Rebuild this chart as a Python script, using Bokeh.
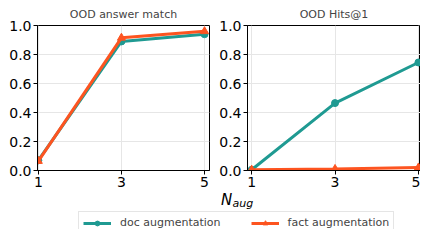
from bokeh.plotting import figure
from bokeh.layouts import column, row
from bokeh.models import FixedTicker, PrintfTickFormatter, Legend, LegendItem, Range1d
from bokeh.core.properties import value
from bokeh.embed import file_html
from bokeh.resources import INLINE

n_aug = [1, 3, 5]
titles = ["OOD answer match", "OOD Hits@1"]
doc_answer = [0.07, 0.89, 0.94]
fact_answer = [0.065, 0.915, 0.96]
doc_hits = [0.005, 0.465, 0.745]
fact_hits = [0.005, 0.01, 0.02]
y_ticks = [0.0, 0.2, 0.4, 0.6, 0.8, 1.0]
series_names = ["doc augmentation", "fact augmentation"]

TEAL = "#1f9a92"
ORANGE = "#fd5420"
FONT = "DejaVu Sans"


def make_panel(title, doc, fact, xr, bl, br, w):
    p = figure(width=w, height=192, output_backend="svg", toolbar_location=None,
               x_range=Range1d(*xr), y_range=Range1d(0, 1.0),
               min_border_left=bl, min_border_right=br, min_border_top=18,
               min_border_bottom=22, title=title)
    p.title.text_font = FONT
    p.title.text_font_size = "11px"
    p.title.text_font_style = "normal"
    p.title.align = "center"
    p.title.offset = 0
    p.outline_line_color = "black"
    p.outline_line_width = 1
    for ax in (p.xaxis, p.yaxis):
        ax.major_label_text_font = FONT
        ax.major_label_text_font_size = "14px"
        ax.major_label_text_color = "black"
        ax.axis_line_color = "black"
        ax.major_tick_line_color = "black"
        ax.major_tick_out = 4
        ax.major_tick_in = 0
        ax.minor_tick_line_color = None
        ax.major_label_standoff = 2
    p.xaxis.ticker = FixedTicker(ticks=n_aug)
    p.yaxis.ticker = FixedTicker(ticks=y_ticks)
    p.yaxis.formatter = PrintfTickFormatter(format="%.1f")
    p.grid.grid_line_color = "#e6e6e6"
    p.grid.grid_line_width = 1
    p.line(n_aug, doc, color=TEAL, line_width=3)
    p.scatter(n_aug, doc, marker="circle", size=7, color=TEAL)
    p.line(n_aug, fact, color=ORANGE, line_width=3)
    p.scatter(n_aug, fact, marker="triangle", size=8, color=ORANGE)
    return p


p1 = make_panel(titles[0], doc_answer, fact_answer, (0.98, 5.12), 37, 3, 212)
p2 = make_panel(titles[1], doc_hits, fact_hits, (0.9, 5.05), 35, 0, 208)

# bottom area: x label and legend
b = figure(width=420, height=37, output_backend="svg", toolbar_location=None,
           x_range=Range1d(0, 420), y_range=Range1d(0, 37),
           min_border=0, outline_line_color=None)
b.axis.visible = False
b.grid.visible = False
b.text(x=[226], y=[30], text=["N"], text_font=value(FONT), text_font_size="15px",
       text_font_style="italic", text_align="center", text_baseline="middle")
b.text(x=[232], y=[26.5], text=["aug"], text_font=value(FONT), text_font_size="11px",
       text_font_style="italic", text_align="left", text_baseline="middle")
nan = float("nan")
l1 = b.line([nan], [nan], color=TEAL, line_width=3)
s1 = b.scatter([nan], [nan], marker="circle", size=7, color=TEAL)
l2 = b.line([nan], [nan], color=ORANGE, line_width=3)
s2 = b.scatter([nan], [nan], marker="triangle", size=8, color=ORANGE)
leg = Legend(items=[LegendItem(label=series_names[0], renderers=[l1, s1]),
                    LegendItem(label=series_names[1], renderers=[l2, s2])],
             orientation="horizontal", location=(78, -5),
             label_text_font=FONT, label_text_font_size="11px",
             glyph_width=28, glyph_height=12, spacing=30, padding=4, margin=0,
             label_standoff=9, border_line_color="#cccccc", border_line_width=1,
             background_fill_alpha=1.0)
leg.label_height = 12
b.add_layout(leg, "center")

layout = column(row(p1, p2), b)
open("out.html", "w").write(file_html(layout, INLINE))
